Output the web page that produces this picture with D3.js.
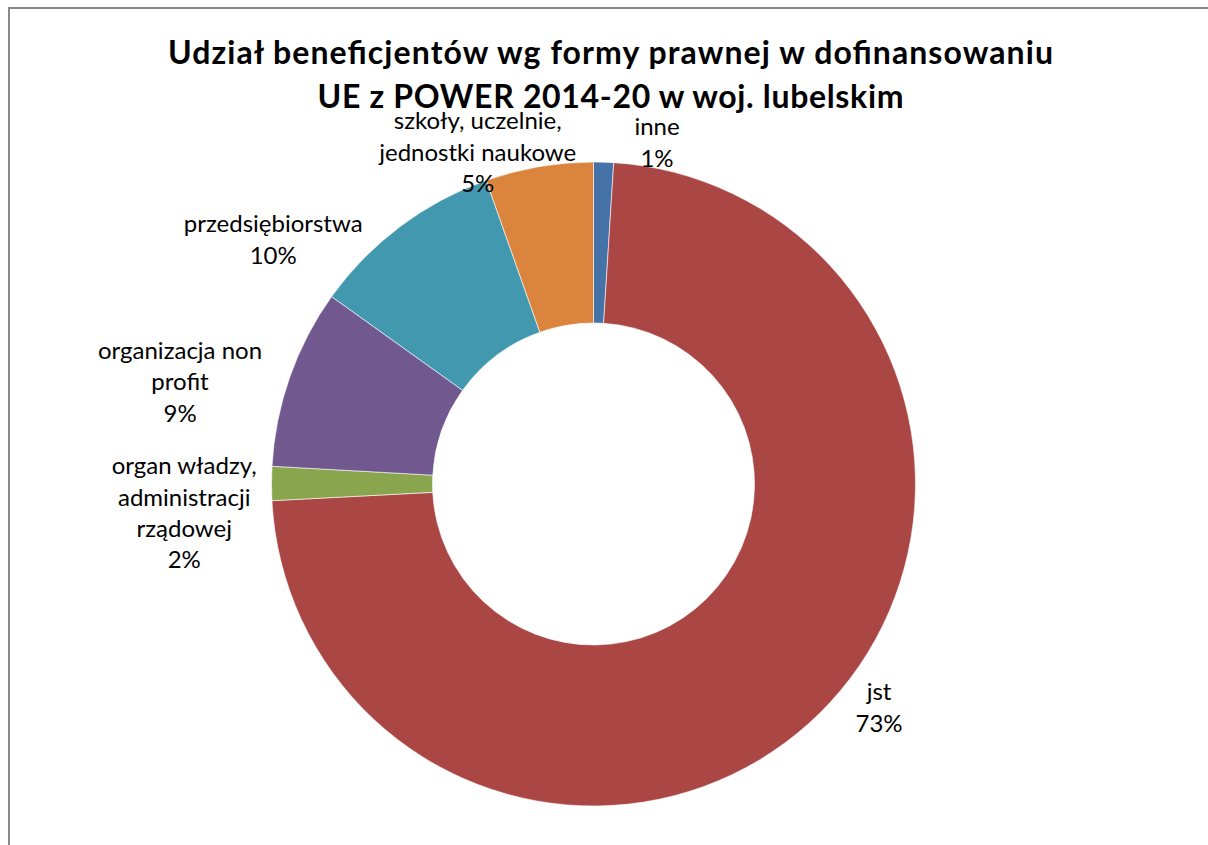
<!DOCTYPE html>
<html>
<head>
<meta charset="utf-8">
<script src="https://cdn.jsdelivr.net/npm/d3@7"></script>
<style>
  body { margin: 0; background: #fff; }
  text { font-family: Lato, "Open Sans", sans-serif; }
</style>
</head>
<body>
<div id="chart"></div>
<script>
// kategorie (kolejnosc jak w arkuszu, od godz. 12 zgodnie z zegarem)
var categories = ["inne", "jst", "organ władzy, administracji rządowej", "organizacja non profit", "przedsiębiorstwa", "szkoły, uczelnie, jednostki naukowe"];
var shares = [1.0, 73.1, 1.7, 9.0, 9.7, 5.4];
// etykiety lamane jak w oryginale
var labelLines = [
  ["inne"],
  ["jst"],
  ["organ władzy,", "administracji", "rządowej"],
  ["organizacja non", "profit"],
  ["przedsiębiorstwa"],
  ["szkoły, uczelnie,", "jednostki naukowe"]
];
var colors = ["#4572A7", "#AA4643", "#89A54E", "#71588F", "#4198AF", "#DB843D"];
var titleLines = ["Udział beneficjentów wg formy prawnej w dofinansowaniu", "UE z POWER 2014-20 w woj. lubelskim"];

var width = 1208, height = 845;
var cx = 593.5, cy = 484;
var outerR = 322, innerR = 161;

// polozenie etykiet: kat (stopnie, od gory zgodnie z zegarem) i odleglosc od srodka
var labelPolar = [[10.8, 339], [129.1, 368], [264.8, 411], [282.8, 424], [306.4, 398], [340.3, 343.5]];

var svg = d3.select("#chart").append("svg")
    .attr("width", width)
    .attr("height", height);

// ramka wykresu
svg.append("rect")
    .attr("x", 9)
    .attr("y", 8)
    .attr("width", width + 20)
    .attr("height", height + 20)
    .attr("fill", "none")
    .attr("stroke", "#898989")
    .attr("stroke-width", 2);

// tytul
var titleLen = [885, 586];
var titleY = [64, 108];
titleLines.forEach(function(t, i){
    svg.append("text")
        .attr("x", 610.5)
        .attr("y", titleY[i])
        .attr("text-anchor", "middle")
        .attr("font-weight", "bold")
        .attr("font-size", 32)
        .attr("textLength", titleLen[i])
        .attr("lengthAdjust", "spacing")
        .attr("fill", "#000")
        .text(t);
});

var total = d3.sum(shares);
var data = categories.map(function(c, i){
    return {name: c, value: shares[i], i: i};
});

var pie = d3.pie().sort(null).value(function(d){ return d.value; });
var arc = d3.arc().innerRadius(innerR).outerRadius(outerR);

var g = svg.append("g").attr("transform", "translate(" + cx + "," + cy + ")");

g.selectAll("path")
    .data(pie(data))
    .enter().append("path")
    .attr("d", arc)
    .attr("fill", function(d){ return colors[d.data.i]; })
    .attr("stroke", "#fff")
    .attr("stroke-width", 0.6);

// etykiety danych
var lh = 31.5;
data.forEach(function(d, i){
    var lines = labelLines[i].concat([Math.round(d.value / total * 100) + "%"]);
    var a = labelPolar[i][0] * Math.PI / 180;
    var r = labelPolar[i][1];
    var x = Math.sin(a) * r;
    var y = -Math.cos(a) * r;
    var y0 = y - (lines.length - 1) * lh / 2;
    var t = g.append("text")
        .attr("text-anchor", "middle")
        .attr("font-size", 24)
        .attr("fill", "#000");
    lines.forEach(function(l, k){
        t.append("tspan")
            .attr("x", x)
            .attr("y", y0 + k * lh)
            .text(l);
    });
});
</script>
</body>
</html>
